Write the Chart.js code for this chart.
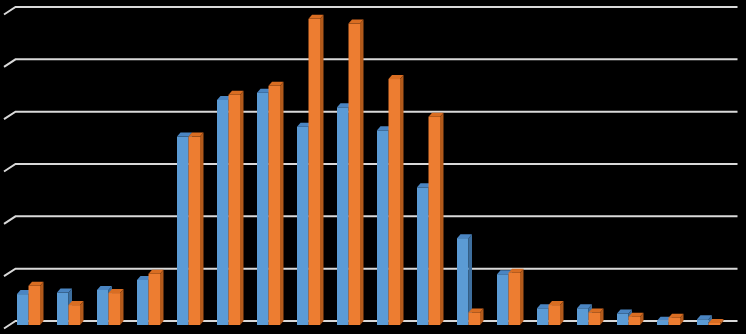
<!DOCTYPE html>
<html>
<head>
<meta charset="utf-8">
<script src="https://cdn.jsdelivr.net/npm/chart.js@4"></script>
<style>
  html, body { margin: 0; padding: 0; background: #000; }
  #wrap { width: 746px; height: 334px; }
</style>
</head>
<body>
<div id="wrap"><canvas id="c" width="746" height="334"></canvas></div>
<script>
const categories = ["1","2","3","4","5","6","7","8","9","10","11","12","13","14","15","16","17","18"];
const seriesA = [0.59, 0.62, 0.67, 0.86, 3.60, 4.30, 4.44, 3.79, 4.16, 3.72, 2.63, 1.66, 0.97, 0.32, 0.32, 0.22, 0.08, 0.11];
const seriesB = [0.75, 0.38, 0.61, 0.98, 3.60, 4.40, 4.57, 5.85, 5.76, 4.70, 3.98, 0.24, 1.00, 0.38, 0.24, 0.16, 0.14, 0.04];
const gridValues = [0, 1, 2, 3, 4, 5, 6];

const DX = 3.5, DY = 4;
const faces = [
  { front: '#5b9bd5', top: '#4a85c2', side: '#3d6e9e' },
  { front: '#ed7d31', top: '#d96d22', side: '#b35a1b' }
];

const gridPlugin = {
  id: 'grid3d',
  beforeDatasetsDraw(chart) {
    const ctx = chart.ctx, y = chart.scales.y, area = chart.chartArea;
    ctx.save();
    ctx.strokeStyle = '#d9d9d9';
    ctx.lineWidth = 2;
    gridValues.forEach(v => {
      const py = y.getPixelForValue(v) - DY;
      ctx.beginPath();
      ctx.moveTo(area.left - 4.5, py + 7.5);
      ctx.lineTo(area.left + 7, py);
      ctx.lineTo(area.right + 9, py);
      ctx.stroke();
    });
    ctx.restore();
  }
};

const barPlugin = {
  id: 'bars3d',
  afterDatasetsDraw(chart) {
    const ctx = chart.ctx;
    const metas = [chart.getDatasetMeta(0), chart.getDatasetMeta(1)];
    ctx.save();
    for (let i = 0; i < categories.length; i++) {
      metas.forEach((meta, d) => {
        const el = meta.data[i];
        const p = el.getProps(['x', 'y', 'base', 'width'], true);
        const l = p.x - p.width / 2, r = p.x + p.width / 2, t = p.y, b = p.base;
        const f = faces[d];
        // front
        ctx.fillStyle = f.front;
        ctx.fillRect(l, t, r - l, b - t);
        // top
        ctx.fillStyle = f.top;
        ctx.beginPath();
        ctx.moveTo(l, t); ctx.lineTo(l + DX, t - DY); ctx.lineTo(r + DX, t - DY); ctx.lineTo(r, t);
        ctx.closePath(); ctx.fill();
        // side
        ctx.fillStyle = f.side;
        ctx.beginPath();
        ctx.moveTo(r, t); ctx.lineTo(r + DX, t - DY); ctx.lineTo(r + DX, b - DY); ctx.lineTo(r, b);
        ctx.closePath(); ctx.fill();
      });
    }
    ctx.restore();
  }
};

new Chart(document.getElementById('c'), {
  type: 'bar',
  data: {
    labels: categories,
    datasets: [
      { label: 'A', data: seriesA, backgroundColor: 'rgba(0,0,0,0)', borderWidth: 0, categoryPercentage: 0.575, barPercentage: 1 },
      { label: 'B', data: seriesB, backgroundColor: 'rgba(0,0,0,0)', borderWidth: 0, categoryPercentage: 0.575, barPercentage: 1 }
    ]
  },
  options: {
    responsive: false,
    animation: false,
    events: [],
    layout: { padding: { left: 8.5, right: 17.5, top: 11, bottom: 9 } },
    plugins: { legend: { display: false }, tooltip: { enabled: false } },
    scales: {
      x: { display: false, offset: true },
      y: { display: false, min: 0, max: 6 }
    }
  },
  plugins: [gridPlugin, barPlugin]
});
</script>
</body>
</html>
